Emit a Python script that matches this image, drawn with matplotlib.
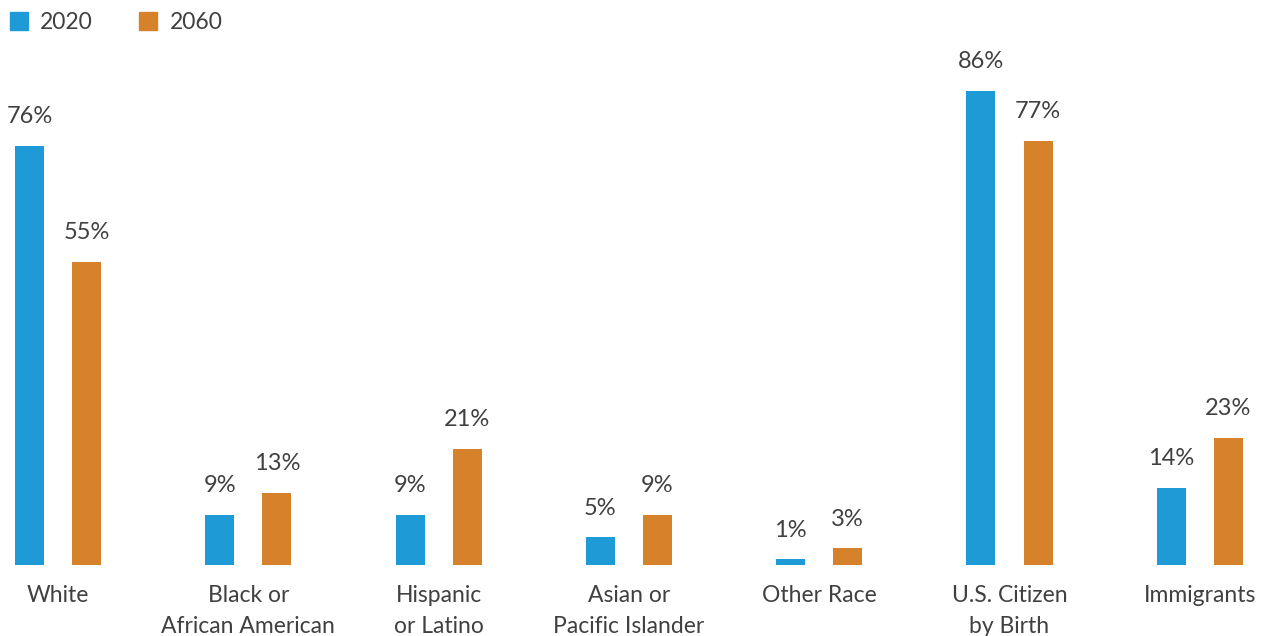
import matplotlib
matplotlib.use("Agg")
import matplotlib.pyplot as plt
from matplotlib.lines import Line2D
import numpy as np

categories = ["White", "Black or\nAfrican American", "Hispanic\nor Latino",
              "Asian or\nPacific Islander", "Other Race", "U.S. Citizen\nby Birth",
              "Immigrants"]
series_names = ["2020", "2060"]
values_2020 = [76, 9, 9, 5, 1, 86, 14]
values_2060 = [55, 13, 21, 9, 3, 77, 23]

BLUE = "#1e9bd7"
ORANGE = "#d6822a"
TEXT = "#404040"

plt.rcParams["font.family"] = ["Lato", "DejaVu Sans"]

fig = plt.figure(figsize=(12.64, 6.36), dpi=100)
ax = fig.add_axes([0, 71 / 636, 1, 565 / 636])

x = np.arange(len(categories))
w = 0.152
off = 0.15
b1 = ax.bar(x - off, values_2020, w, color=BLUE)
b2 = ax.bar(x + off, values_2060, w, color=ORANGE)

for bars, vals in ((b1, values_2020), (b2, values_2060)):
    for rect, v in zip(bars, vals):
        ax.annotate(f"{v}%", (rect.get_x() + rect.get_width() / 2, rect.get_height()),
                    xytext=(0, 16.5), textcoords="offset points", ha="center",
                    va="baseline", fontsize=17, color=TEXT)

for xi, c in zip(x, categories):
    ax.annotate(c, (xi, 0), xytext=(0, -14.5), textcoords="offset points",
                ha="center", va="top", fontsize=16.5, color=TEXT, linespacing=1.6,
                annotation_clip=False)

ax.set_xlim(-58 / 190.3, (1264 - 58) / 190.3)
ax.set_ylim(0, 565 / 5.51)
ax.axis("off")

handles = [Line2D([], [], marker="s", linestyle="none", markersize=12.5,
                  markerfacecolor=c, markeredgecolor=c) for c in (BLUE, ORANGE)]
leg = fig.legend(handles, series_names, loc="upper left", bbox_to_anchor=(0.002, 0.992),
                 ncol=2, frameon=False, fontsize=16.5, handlelength=0.8,
                 handletextpad=0.55, columnspacing=2.0, borderaxespad=0.0,
                 borderpad=0.3)
for t in leg.get_texts():
    t.set_color(TEXT)

fig.savefig("out.png", dpi=100)
